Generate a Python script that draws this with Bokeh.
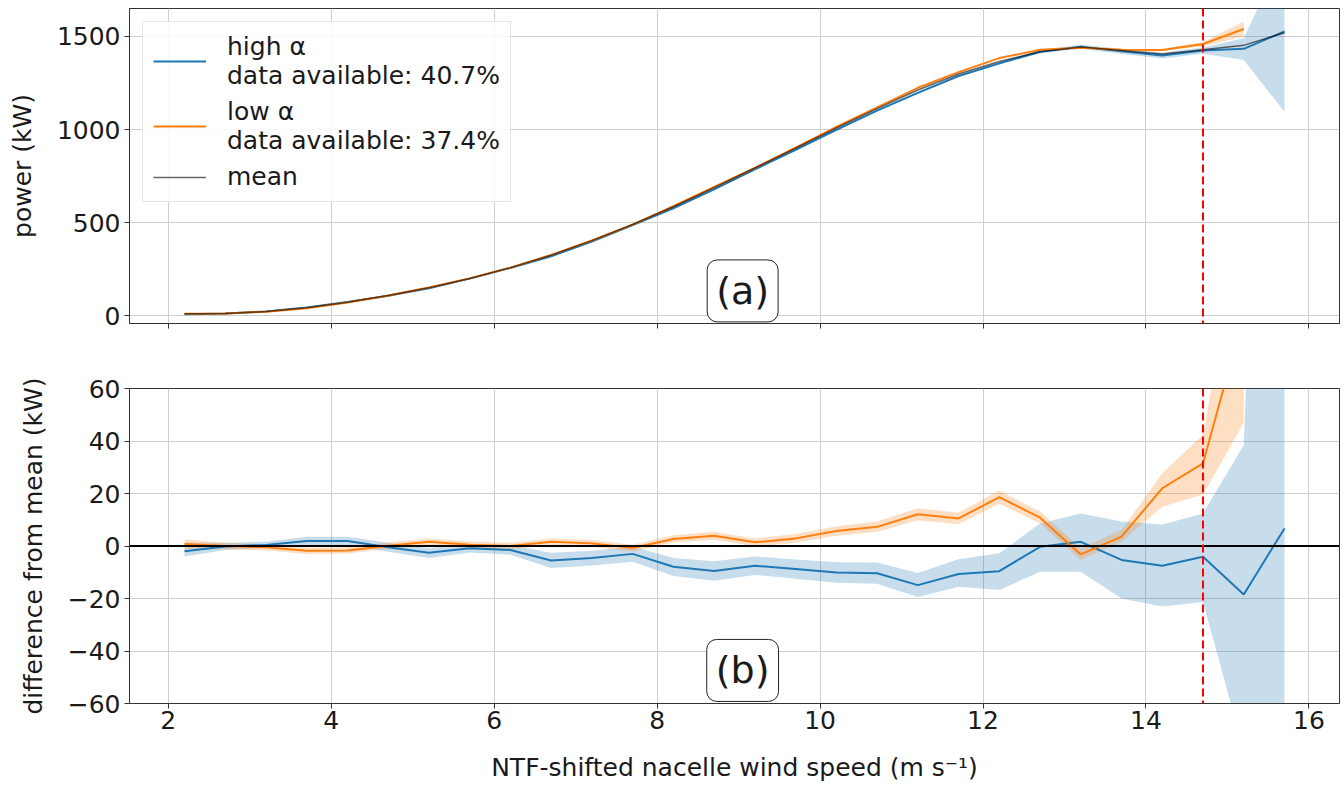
from bokeh.plotting import figure
from bokeh.models import (ColumnDataSource, Span, Label, Legend, LegendItem,
                          FixedTicker, Range1d)
from bokeh.layouts import column
from bokeh.embed import file_html
from bokeh.resources import INLINE

# ---------------- data ----------------
wind_speed = [2.2, 2.7, 3.2, 3.7, 4.2, 4.7, 5.2, 5.7, 6.2, 6.7, 7.2, 7.7, 8.2, 8.7,
              9.2, 9.7, 10.2, 10.7, 11.2, 11.7, 12.2, 12.7, 13.2, 13.7, 14.2, 14.7,
              15.2, 15.7]

mean_power = [10, 12, 22, 42, 72, 108, 150, 200, 258, 325, 403, 490, 585, 688,
              793, 900, 1008, 1112, 1212, 1298, 1365, 1418, 1443, 1425, 1405, 1428,
              1452, 1520]

# high alpha: difference from mean and its confidence band
high_diff = [-2.0, -0.2, 0.4, 1.9, 1.9, -0.5, -2.6, -0.9, -1.5, -5.5, -4.6, -3.0,
             -7.9, -9.5, -7.5, -8.8, -10.1, -10.4, -14.9, -10.7, -9.6, -0.3, 1.6,
             -5.3, -7.5, -4.1, -18.5, 6.7]
high_lower = [-4.0, -1.5, -0.8, 0.4, 0.4, -2.2, -4.6, -2.5, -3.3, -8.4, -7.4, -6.0,
              -11.4, -13.2, -11.0, -12.5, -14.0, -14.4, -19.4, -15.5, -16.8, -9.8,
              -9.8, -20.0, -23.0, -21.3, -78.0, -425.0]
high_upper = [1.2, 1.2, 1.6, 3.5, 3.5, 1.2, -0.8, 0.7, 0.3, -2.6, -1.8, -0.2,
              -4.6, -5.8, -4.0, -5.1, -6.2, -6.3, -10.3, -5.0, -2.8, 8.6, 12.4,
              9.3, 8.2, 12.4, 38.5, 440.0]

# low alpha (no data in the last bin)
low_speed = wind_speed[:27]
low_diff = [0.8, 0.0, -0.5, -1.8, -1.7, 0.1, 1.6, 0.5, 0.0, 1.6, 1.0, -0.8, 2.7,
            3.9, 1.4, 2.9, 5.7, 7.3, 12.1, 10.5, 18.6, 10.8, -3.2, 3.6, 22.0,
            31.5, 88.0]
low_lower = [-1.0, -1.2, -1.7, -3.0, -2.9, -1.1, 0.3, -0.7, -1.2, 0.3, -0.3, -2.1,
             1.3, 2.4, -0.1, 1.2, 3.9, 5.3, 9.8, 8.3, 16.1, 8.6, -5.3, 1.6, 15.0,
             19.5, 47.0]
low_upper = [2.5, 1.2, 0.7, -0.6, -0.5, 1.3, 2.9, 1.7, 1.2, 2.9, 2.3, 0.5, 4.1,
             5.4, 2.9, 4.6, 7.5, 9.3, 14.4, 12.7, 21.1, 13.1, -0.9, 6.1, 27.7,
             42.4, 128.0]

high_label = "high α\ndata available: 40.7%"
low_label = "low α\ndata available: 37.4%"
mean_label = "mean"

rated_cutoff = 14.7

x_ticks = [2, 4, 6, 8, 10, 12, 14, 16]
power_ticks = [0, 500, 1000, 1500]
diff_ticks = [-60, -40, -20, 0, 20, 40, 60]
diff_tick_labels = ["−60", "−40", "−20", "0", "20", "40", "60"]

# ---------------- derived columns ----------------
mean_low = mean_power[:27]
src_high = ColumnDataSource(dict(
    x=wind_speed,
    power=[m + d for m, d in zip(mean_power, high_diff)],
    p_lo=[m + d for m, d in zip(mean_power, high_lower)],
    p_hi=[m + d for m, d in zip(mean_power, high_upper)],
    diff=high_diff, d_lo=high_lower, d_hi=high_upper,
    mean=mean_power))
src_low = ColumnDataSource(dict(
    x=low_speed,
    power=[m + d for m, d in zip(mean_low, low_diff)],
    p_lo=[m + d for m, d in zip(mean_low, low_lower)],
    p_hi=[m + d for m, d in zip(mean_low, low_upper)],
    diff=low_diff, d_lo=low_lower, d_hi=low_upper))

BLUE = "#1f77b4"
ORANGE = "#ff7f0e"
FONT = "DejaVu Sans"
TXT = "#1a1a1a"
FS = "25px"

x_range = Range1d(1.525, 16.375)


def style(p):
    p.outline_line_color = "#333333"
    p.outline_line_width = 1
    p.grid.grid_line_color = "#cfcfcf"
    p.grid.grid_line_width = 1
    for ax in p.axis:
        ax.axis_line_color = "#333333"
        ax.major_tick_line_color = "#333333"
        ax.major_tick_in = 0
        ax.major_tick_out = 5
        ax.minor_tick_line_color = None
        ax.major_label_text_font = FONT
        ax.major_label_text_font_size = FS
        ax.major_label_text_color = TXT
        ax.major_label_standoff = 4
        ax.axis_label_text_font = FONT
        ax.axis_label_text_font_size = FS
        ax.axis_label_text_font_style = "normal"
        ax.axis_label_text_color = TXT
    p.xaxis.ticker = FixedTicker(ticks=x_ticks)
    p.xaxis.major_label_standoff = 2


# ---------------- top panel ----------------
p1 = figure(frame_width=1210, frame_height=315, x_range=x_range,
            y_range=Range1d(-42, 1650), output_backend="svg",
            toolbar_location=None, min_border_left=129, min_border_right=4,
            min_border_top=8, min_border_bottom=49)
style(p1)
p1.yaxis.ticker = FixedTicker(ticks=power_ticks)
p1.yaxis.axis_label = "power (kW)"
p1.yaxis.axis_label_standoff = 17
p1.xaxis.major_label_overrides = {t: "" for t in x_ticks}

p1.varea(x="x", y1="p_lo", y2="p_hi", source=src_high, fill_color=BLUE, fill_alpha=0.25)
p1.varea(x="x", y1="p_lo", y2="p_hi", source=src_low, fill_color=ORANGE, fill_alpha=0.25)
r_high = p1.line(x="x", y="power", source=src_high, line_color=BLUE, line_width=2)
r_low = p1.line(x="x", y="power", source=src_low, line_color=ORANGE, line_width=2)
r_mean = p1.line(x="x", y="mean", source=src_high, line_color="black", line_alpha=0.6,
                 line_width=1.5)
p1.add_layout(Span(location=rated_cutoff, dimension="height", line_color="red",
                   line_dash="8 4", line_width=2))

legend = Legend(items=[LegendItem(label=high_label, renderers=[r_high]),
                       LegendItem(label=low_label, renderers=[r_low]),
                       LegendItem(label=mean_label, renderers=[r_mean])],
                location="top_left")
legend.label_text_font = FONT
legend.label_text_font_size = FS
legend.label_text_color = TXT
legend.glyph_width = 53
legend.glyph_height = 24
legend.label_standoff = 21
legend.padding = 10
legend.spacing = 7
legend.margin = 13
legend.border_line_color = "#cccccc"
legend.border_line_width = 1
legend.background_fill_alpha = 0.85
p1.add_layout(legend)

p1.add_layout(Label(x=9.05, y=133, text="(a)", text_align="center",
                    text_baseline="middle", text_font=FONT, text_font_size="38px",
                    text_color=TXT, background_fill_color="white",
                    border_line_color="#222222", border_line_width=1,
                    border_radius=10, padding=9))

# ---------------- bottom panel ----------------
p2 = figure(frame_width=1210, frame_height=315, x_range=x_range,
            y_range=Range1d(-60, 60), output_backend="svg",
            toolbar_location=None, min_border_left=129, min_border_right=4,
            min_border_top=16, min_border_bottom=0)
style(p2)
p2.yaxis.ticker = FixedTicker(ticks=diff_ticks)
p2.yaxis.major_label_overrides = dict(zip(diff_ticks, diff_tick_labels))
p2.yaxis.axis_label = "difference from mean (kW)"
p2.yaxis.axis_label_standoff = 17
p2.xaxis.axis_label = "NTF-shifted nacelle wind speed (m s⁻¹)"
p2.xaxis.axis_label_standoff = 21

p2.varea(x="x", y1="d_lo", y2="d_hi", source=src_high, fill_color=BLUE, fill_alpha=0.25)
p2.varea(x="x", y1="d_lo", y2="d_hi", source=src_low, fill_color=ORANGE, fill_alpha=0.25)
p2.line(x="x", y="diff", source=src_high, line_color=BLUE, line_width=2)
p2.line(x="x", y="diff", source=src_low, line_color=ORANGE, line_width=2)
p2.add_layout(Span(location=0, dimension="width", line_color="black", line_width=2))
p2.add_layout(Span(location=rated_cutoff, dimension="height", line_color="red",
                   line_dash="8 4", line_width=2))
p2.add_layout(Label(x=9.05, y=-47.4, text="(b)", text_align="center",
                    text_baseline="middle", text_font=FONT, text_font_size="38px",
                    text_color=TXT, background_fill_color="white",
                    border_line_color="#222222", border_line_width=1,
                    border_radius=10, padding=9))

layout = column(p1, p2, spacing=0)
open("out.html", "w").write(file_html(layout, INLINE))
